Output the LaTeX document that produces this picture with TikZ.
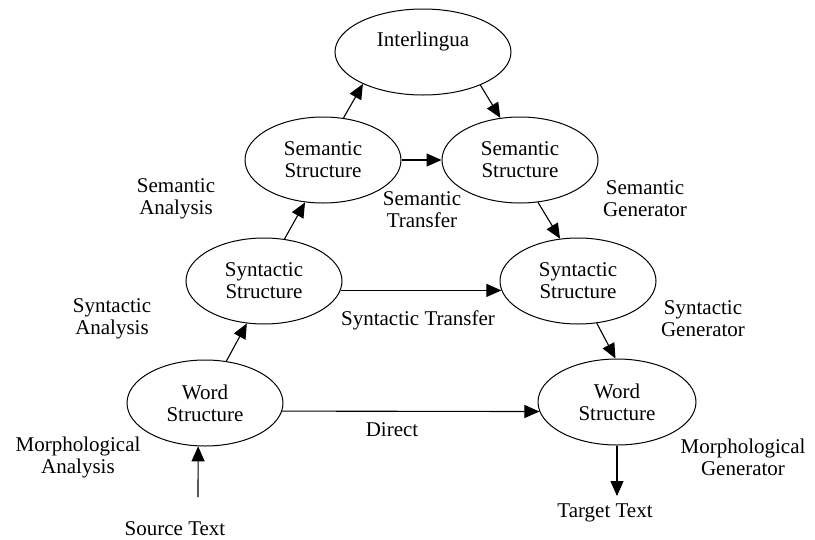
\documentclass[tikz,border=0pt]{standalone}
\usepackage{fontspec}
\setmainfont{Liberation Serif}
\usetikzlibrary{shapes.geometric,arrows.meta}
\begin{document}
\begin{tikzpicture}[x=1pt,y=-1pt,
  every node/.style={font=\fontsize{21}{22}\selectfont, align=center},
  stage/.style={draw, ellipse, line width=1pt, minimum width=156pt,
    minimum height=86pt, inner sep=0pt},
  link/.style={line width=1.1pt, -{Triangle[length=15pt,width=13pt]}},
  caption/.style={inner sep=0pt}]
  % page frame
  \fill[white] (0,0) rectangle (815,539);
  \useasboundingbox (0,0) rectangle (815,539);

  % representation levels
  \node[stage, minimum width=176pt] (inter) at (423,52) {Interlingua\\[3pt]\mbox{}};
  \node[stage] (seml) at (323,160) {Semantic\\Structure};
  \node[stage] (semr) at (520,160) {Semantic\\Structure};
  \node[stage] (synl) at (264,281) {Syntactic\\Structure};
  \node[stage] (synr) at (578,281) {Syntactic\\Structure};
  \node[stage] (wordl) at (205,403) {Word\\Structure};
  \node[stage, minimum width=158pt] (wordr) at (617,402) {Word\\Structure};

  % step labels
  \node[caption] (semana) at (176,199) {Semantic\\Analysis};
  \node[caption] (semtra) at (422,210) {Semantic\\Transfer};
  \node[caption] (semgen) at (645,199) {Semantic\\Generator};
  \node[caption] (synana) at (112,319) {Syntactic\\Analysis};
  \node[caption] (syntra) at (418,320) {Syntactic Transfer};
  \node[caption] (syngen) at (703,319) {Syntactic\\Generator};
  \node[caption] (direct) at (392,430) {Direct};
  \node[caption] (morana) at (78,457) {Morphological\\Analysis};
  \node[caption] (morgen) at (743,457) {Morphological\\Generator};
  \node[caption] (src) at (175,529) {Source Text};
  \node[caption] (tgt) at (605,513) {Target Text};

  % free arrow ends
  \coordinate (srcend) at (198,497);
  \coordinate (tgtend) at (617,496);

  % analysis side
  \draw[link] (srcend) -- (wordl.261);
  \draw[link] (wordl.63) -- (synl.248);
  \draw[link] (synl.64) -- (seml.247);
  \draw[link] (seml.64) -- (inter.208);
  % generation side
  \draw[link] (inter.330) -- (semr.115);
  \draw[link] (semr.293) -- (synr.113);
  \draw[link] (synr.294) -- (wordr.92);
  \draw[link] (wordr.south) -- (tgtend);
  % transfers
  \draw[link] (seml.east) -- (semr.west);
  \draw[link] (synl.353) -- (synr.187);
  \draw[link] (wordl.354) -- (wordr.187);
\end{tikzpicture}
\end{document}
